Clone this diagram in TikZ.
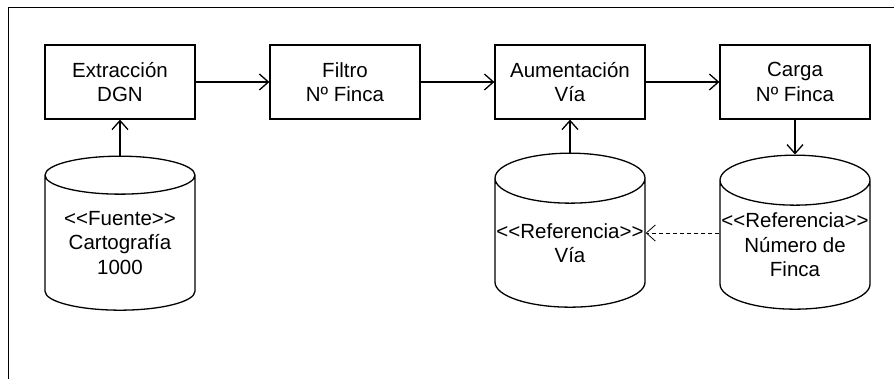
\documentclass[tikz,border=0pt]{standalone}
\usepackage{fontspec}
\setmainfont{Liberation Sans}
\usetikzlibrary{arrows.meta, shapes.geometric}
\tikzset{>={Straight Barb[length=9pt, width=16pt]}}
\tikzset{
    proc/.style={draw, line width=1.3pt, minimum width=150pt, minimum height=74pt, align=center},
    store/.style={draw, line width=1.3pt, cylinder, shape border rotate=90, aspect=0.34,
        minimum width=150pt, minimum height=154pt, inner sep=0pt, align=center},
    flow/.style={->, line width=1.3pt},
    ref/.style={->, line width=.8pt, dash pattern=on 4pt off 3pt},
}
\newcommand{\txt}{\fontsize{20.5}{24.5}\selectfont}

\begin{document}
\begin{tikzpicture}[x=1pt, y=1pt, font=\txt]
    \useasboundingbox (0, 0) rectangle (894, 379);
    \draw[line width=1pt](8, 0)|-(894, 371);
    \node[proc](extr)at(120, 297){Extracción\\DGN};
    \node[proc](filtro)at(345, 297){Filtro\\Nº Finca};
    \node[proc](aum)at(570, 297){Aumentación\\Vía};
    \node[proc](carga)at(795, 297){Carga\\Nº Finca};
    \node[store](carto)at(120, 136){<{}<Fuente>{}>\\Cartografía\\1000};
    \node[store](via)at(570, 136){<{}<Referencia>{}>\\Vía};
    \node[store](num)at(795, 134){<{}<Referencia>{}>\\Número de\\Finca};
    \draw[flow](extr)--(filtro);
    \draw[flow](filtro)--(aum);
    \draw[flow](aum)--(carga);
    \draw[flow](carto)--(extr);
    \draw[flow](via)--(aum);
    \draw[flow](carga)--(num);
    \draw[ref](num.west|-0, 146)--(via.east|-0, 146);
\end{tikzpicture}
\end{document}
